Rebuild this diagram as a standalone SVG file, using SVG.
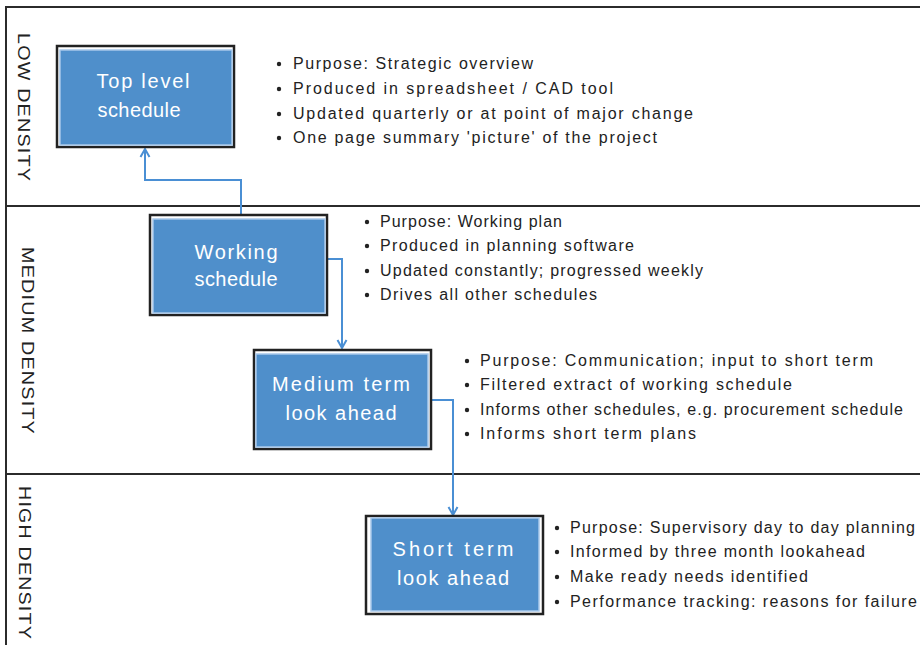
<svg xmlns="http://www.w3.org/2000/svg" width="920" height="645" viewBox="0 0 920 645">
<defs>
<style>
.lane{fill:none;stroke:#2b2b2b;stroke-width:2}
.lbl{font-family:"Liberation Sans",Arial,sans-serif;font-size:17px;fill:#222;letter-spacing:1px}
.outer{fill:#fff;stroke:#222;stroke-width:2.5}
.inner{fill:#4f8fcb;stroke:#a8c8ea;stroke-width:1.5}
.bt{font-family:"Liberation Sans",Arial,sans-serif;font-size:20px;fill:#fff;text-anchor:middle}
.tx{font-family:"Liberation Sans",Arial,sans-serif;font-size:16px;fill:#222}
.dot{fill:#222}
.con{fill:none;stroke:#4a8fd4;stroke-width:2}
</style>
<marker id="arr" viewBox="0 0 12 12" refX="10" refY="6" markerWidth="12" markerHeight="12" markerUnits="userSpaceOnUse" orient="auto">
<path d="M2,1.5 L10,6 L2,10.5" fill="none" stroke="#4a8fd4" stroke-width="2"/>
</marker>
</defs>

<g id="lanes">
<path class="lane" d="M6,645 V7 H920"/>
<path class="lane" d="M6,206 H920"/>
<path class="lane" d="M6,474 H920"/>
<text class="lbl" x="18" y="33" transform="rotate(90 18 33)" textLength="149" lengthAdjust="spacingAndGlyphs">LOW DENSITY</text>
<text class="lbl" x="22" y="247" transform="rotate(90 22 247)" textLength="188" lengthAdjust="spacingAndGlyphs">MEDIUM DENSITY</text>
<text class="lbl" x="19" y="486" transform="rotate(90 19 486)" textLength="154" lengthAdjust="spacingAndGlyphs">HIGH DENSITY</text>
</g>

<g id="connectors">
<path class="con" d="M241,216 V180 H145 V149" marker-end="url(#arr)"/>
<path class="con" d="M327,259 H342 V348" marker-end="url(#arr)"/>
<path class="con" d="M431,400 H453 V515" marker-end="url(#arr)"/>
</g>

<g id="top-level">
<rect class="outer" x="57" y="46" width="177" height="101"/>
<rect class="inner" x="60" y="50" width="172" height="95"/>
<text class="bt" x="143" y="88" textLength="93">Top level</text>
<text class="bt" x="139" y="117" textLength="83">schedule</text>
</g>
<g id="top-level-notes">
<circle class="dot" cx="279" cy="64" r="2.2"/>
<circle class="dot" cx="279" cy="89" r="2.2"/>
<circle class="dot" cx="279" cy="114" r="2.2"/>
<circle class="dot" cx="279" cy="138" r="2.2"/>
<text class="tx" x="293" y="69" textLength="240">Purpose: Strategic overview</text>
<text class="tx" x="293" y="94" textLength="320">Produced in spreadsheet / CAD tool</text>
<text class="tx" x="293" y="119" textLength="400">Updated quarterly or at point of major change</text>
<text class="tx" x="293" y="143" textLength="364">One page summary 'picture' of the project</text>
</g>

<g id="working">
<rect class="outer" x="150" y="215" width="177" height="100"/>
<rect class="inner" x="153" y="219" width="172" height="94"/>
<text class="bt" x="236" y="259" textLength="83">Working</text>
<text class="bt" x="236" y="286" textLength="83">schedule</text>
</g>
<g id="working-notes">
<circle class="dot" cx="367" cy="222" r="2.2"/>
<circle class="dot" cx="367" cy="246" r="2.2"/>
<circle class="dot" cx="367" cy="271" r="2.2"/>
<circle class="dot" cx="367" cy="295" r="2.2"/>
<text class="tx" x="380" y="227" textLength="182">Purpose: Working plan</text>
<text class="tx" x="380" y="251" textLength="254">Produced in planning software</text>
<text class="tx" x="380" y="276" textLength="323">Updated constantly; progressed weekly</text>
<text class="tx" x="380" y="300" textLength="217">Drives all other schedules</text>
</g>

<g id="medium">
<rect class="outer" x="254" y="350" width="177" height="99"/>
<rect class="inner" x="256" y="354" width="172" height="93"/>
<text class="bt" x="341" y="391" textLength="138">Medium term</text>
<text class="bt" x="341" y="420" textLength="111">look ahead</text>
</g>
<g id="medium-notes">
<circle class="dot" cx="467" cy="361" r="2.2"/>
<circle class="dot" cx="467" cy="385" r="2.2"/>
<circle class="dot" cx="467" cy="410" r="2.2"/>
<circle class="dot" cx="467" cy="434" r="2.2"/>
<text class="tx" x="480" y="366" textLength="393">Purpose: Communication; input to short term</text>
<text class="tx" x="480" y="390" textLength="312">Filtered extract of working schedule</text>
<text class="tx" x="480" y="415" textLength="423">Informs other schedules, e.g. procurement schedule</text>
<text class="tx" x="480" y="439" textLength="216">Informs short term plans</text>
</g>

<g id="short">
<rect class="outer" x="366" y="516" width="177" height="98"/>
<rect class="inner" x="371" y="518" width="168" height="93"/>
<text class="bt" x="453" y="556" textLength="121">Short term</text>
<text class="bt" x="453" y="585" textLength="112">look ahead</text>
</g>
<g id="short-notes">
<circle class="dot" cx="557" cy="528" r="2.2"/>
<circle class="dot" cx="557" cy="552" r="2.2"/>
<circle class="dot" cx="557" cy="577" r="2.2"/>
<circle class="dot" cx="557" cy="602" r="2.2"/>
<text class="tx" x="570" y="533" textLength="345">Purpose: Supervisory day to day planning</text>
<text class="tx" x="570" y="557" textLength="295">Informed by three month lookahead</text>
<text class="tx" x="570" y="582" textLength="238">Make ready needs identified</text>
<text class="tx" x="570" y="607" textLength="347">Performance tracking: reasons for failure</text>
</g>
</svg>
